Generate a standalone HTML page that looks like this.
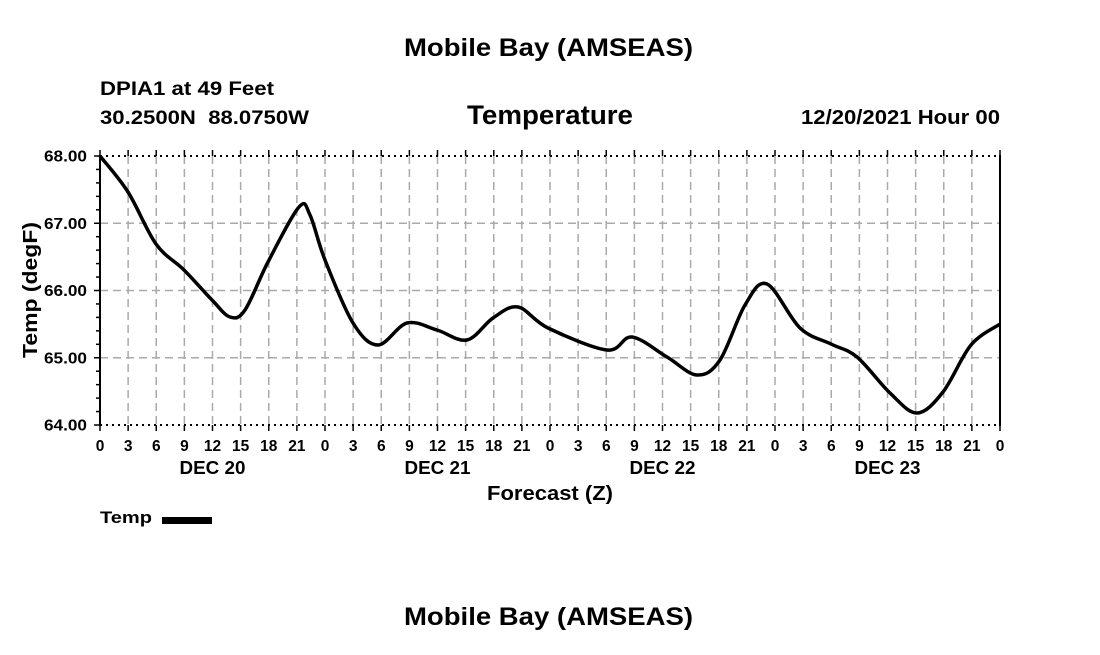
<!DOCTYPE html>
<html><head><meta charset="utf-8"><style>
body{margin:0;background:#fff;width:1100px;height:650px;overflow:hidden}
svg text{font-family:"Liberation Sans",Arial,sans-serif;font-weight:bold;fill:#000}
</style></head><body>
<svg id="s" width="1100" height="650" xmlns="http://www.w3.org/2000/svg">
<text x="404" y="56" font-size="25" textLength="289" lengthAdjust="spacingAndGlyphs">Mobile Bay (AMSEAS)</text>
<text x="100" y="95" font-size="19" textLength="174" lengthAdjust="spacingAndGlyphs">DPIA1 at 49 Feet</text>
<text x="100" y="124" font-size="19" textLength="209" lengthAdjust="spacingAndGlyphs" xml:space="preserve">30.2500N  88.0750W</text>
<text x="467" y="124" font-size="27" textLength="166" lengthAdjust="spacingAndGlyphs">Temperature</text>
<text x="801" y="124" font-size="20" textLength="199" lengthAdjust="spacingAndGlyphs">12/20/2021 Hour 00</text>
<g id="grid"></g>
<text x="100" y="523" font-size="17" textLength="52" lengthAdjust="spacingAndGlyphs">Temp</text>
<rect x="162" y="517" width="50" height="7" fill="#000"/>
<text x="404" y="625" font-size="25" textLength="289" lengthAdjust="spacingAndGlyphs">Mobile Bay (AMSEAS)</text>
<text x="487" y="500" font-size="20" textLength="126" lengthAdjust="spacingAndGlyphs">Forecast (Z)</text>
<text transform="translate(37,358) rotate(-90)" font-size="20" textLength="136" lengthAdjust="spacingAndGlyphs">Temp (degF)</text>
</svg>
<script>
var g=document.getElementById('grid'),h='';
function X(t){return 100+t*9.375}
function Y(v){return 156+(68-v)*67.25}
for(var i=1;i<32;i++){var x=X(i*3);h+='<line x1="'+x+'" y1="156" x2="'+x+'" y2="425" stroke="#aaa" stroke-width="1.5" stroke-dasharray="8,5"/>';}
for(var v=65;v<=67;v++){var y=Y(v);h+='<line x1="100" y1="'+y+'" x2="1000" y2="'+y+'" stroke="#aaa" stroke-width="1.5" stroke-dasharray="8,5"/>';}
h+='<line x1="100" y1="156" x2="1000" y2="156" stroke="#000" stroke-width="2" stroke-dasharray="2,4"/>';
h+='<line x1="100" y1="425" x2="1000" y2="425" stroke="#000" stroke-width="2" stroke-dasharray="2,4"/>';
h+='<line x1="100" y1="155" x2="100" y2="426" stroke="#000" stroke-width="2"/>';
h+='<line x1="1000" y1="155" x2="1000" y2="426" stroke="#000" stroke-width="2"/>';
for(var i=0;i<=32;i++){var x=X(i*3);
h+='<line x1="'+x+'" y1="150" x2="'+x+'" y2="156" stroke="#000" stroke-width="1.5"/>';
h+='<line x1="'+x+'" y1="425" x2="'+x+'" y2="431" stroke="#000" stroke-width="1.5"/>';
h+='<text x="'+x+'" y="451" font-size="15.5" text-anchor="middle">'+((i*3)%24)+'</text>';}
for(var k=0;k<=20;k++){var y=156+k*269/20;h+='<line x1="'+(k%5==0?94:96)+'" y1="'+y+'" x2="100" y2="'+y+'" stroke="#000" stroke-width="1.5"/>';}
for(var v=64;v<=68;v++){h+='<text x="87" y="'+(Y(v)+5.5)+'" font-size="15.5" text-anchor="end" textLength="43" lengthAdjust="spacingAndGlyphs">'+v+'.00</text>';}
var d=['DEC 20','DEC 21','DEC 22','DEC 23'];
for(var i=0;i<4;i++){var c=X(i*24+12);h+='<text x="'+(c-33)+'" y="474" font-size="18" textLength="66" lengthAdjust="spacingAndGlyphs">'+d[i]+'</text>';}
var pts=[[100,156],[128,192],[156,244],[184,270],[212,300],[230,317],[245,310],[268,262],[299,207],[310,215],[325,260],[353,323],[378,345],[407,323],[437,330],[467,340],[493,318],[518,307],[548,328],[607,350],[632,337],[667,357],[697,375],[720,360],[745,305],[767,284],[800,328],[831,344],[857,357],[890,393],[917,413],[943,392],[971,345],[1000,324]];
var s='M'+pts[0][0]+','+pts[0][1];
for(var i=0;i<pts.length-1;i++){var p0=pts[i-1]||pts[i],p1=pts[i],p2=pts[i+1],p3=pts[i+2]||p2;
s+=' C'+(p1[0]+(p2[0]-p0[0])/6)+','+(p1[1]+(p2[1]-p0[1])/6)+' '+(p2[0]-(p3[0]-p1[0])/6)+','+(p2[1]-(p3[1]-p1[1])/6)+' '+p2[0]+','+p2[1];}
h+='<path d="'+s+'" fill="none" stroke="#000" stroke-width="3.5" stroke-linejoin="round"/>';
g.innerHTML=h;
</script>
</body></html>
